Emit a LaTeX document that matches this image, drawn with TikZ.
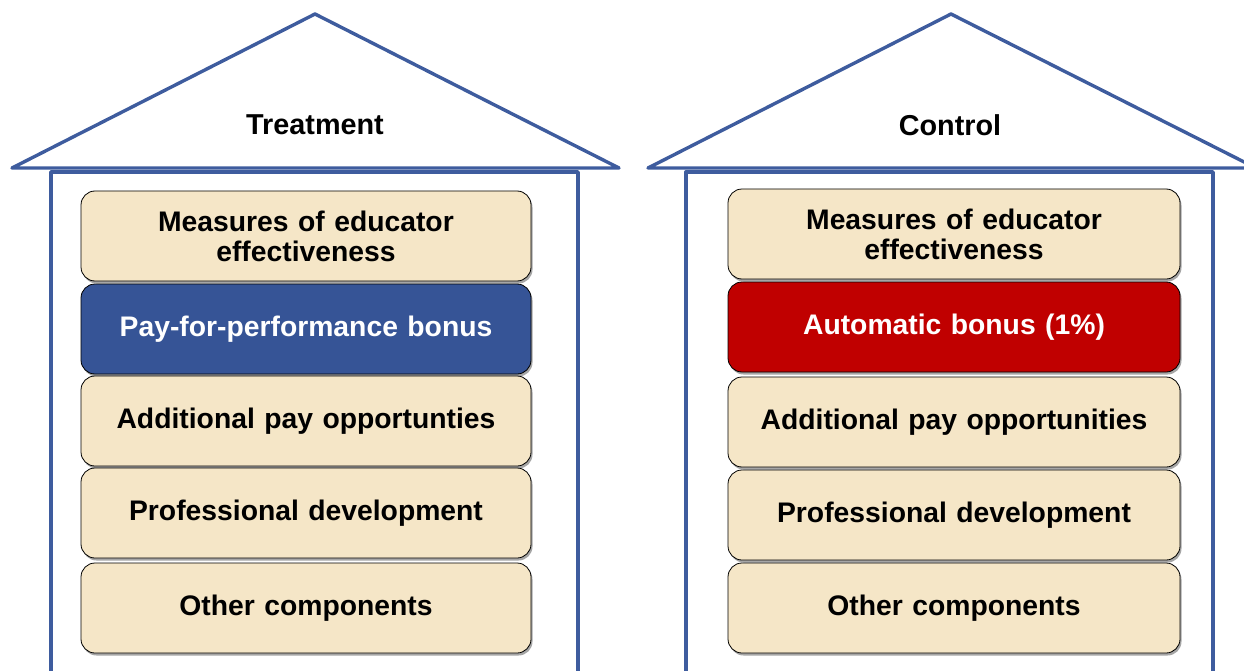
\documentclass[tikz,border=0pt]{standalone}
\usepackage{fontspec}
\setmainfont{Liberation Sans}
\usetikzlibrary{shadows}
\definecolor{houseblue}{RGB}{62,92,158}
\definecolor{beige}{RGB}{245,230,199}
\definecolor{boxblue}{RGB}{54,84,150}
\definecolor{boxred}{RGB}{192,0,0}
\begin{document}
\begin{tikzpicture}[x=1pt,y=-1pt,
  houseline/.style={draw=houseblue,line width=3.4pt,line join=round,line cap=round},
  comp/.style={draw=black,line width=0.8pt,rounded corners=14pt,fill=beige,
    minimum height=90pt,align=center,text width=440pt,
    font=\fontsize{28.3}{30}\selectfont\bfseries,
    drop shadow={shadow xshift=1.5pt,shadow yshift=-2.5pt,opacity=0.35,fill=black}},
  compL/.style={comp,minimum width=450pt},
  compR/.style={comp,minimum width=452pt},
  title/.style={font=\fontsize{28.8}{30}\selectfont\bfseries}]
\useasboundingbox (0,0) rectangle (1244,671);
% left house
\coordinate (LA) at (315,14);
\coordinate (LL) at (12,168);
\coordinate (LR) at (619,168);
\draw[houseline] (LL) -- (LA) -- (LR) -- cycle;
\draw[houseline] (51,680) -- (51,172) -- (578,172) -- (578,680);
\node[title] (tl) at (315,125) {Treatment};
% right house
\coordinate (RA) at (951,14);
\coordinate (RL) at (648,168);
\coordinate (RR) at (1256,168);
\draw[houseline] (RL) -- (RA) -- (RR) -- cycle;
\draw[houseline] (686,680) -- (686,172) -- (1213,172) -- (1213,680);
\node[title] (tr) at (950,125) {Control};
% left components
\node[compL] (l1) at (306,236) {Measures of educator\\effectiveness};
\node[compL,fill=boxblue,text=white] (l2) at (306,329) {Pay-for-performance bonus};
\node[compL] (l3) at (306,421) {Additional pay opportunties};
\node[compL] (l4) at (306,513) {Professional development};
\node[compL] (l5) at (306,608) {Other components};
% right components
\node[compR] (r1) at (954,234) {Measures of educator\\effectiveness};
\node[compR,fill=boxred,text=white] (r2) at (954,327) {Automatic bonus (1\%)};
\node[compR] (r3) at (954,422) {Additional pay opportunities};
\node[compR] (r4) at (954,515) {Professional development};
\node[compR] (r5) at (954,608) {Other components};
\end{tikzpicture}
\end{document}
